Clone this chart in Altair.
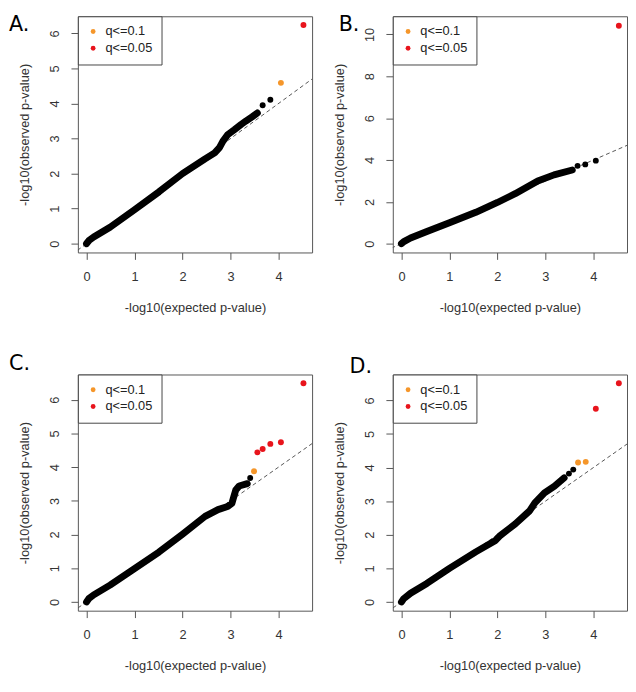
import altair as alt
import pandas as pd

# ---------------- data ----------------
X_TICKS = [0, 1, 2, 3, 4]
X_DOMAIN = [-0.18, 4.70]
DIAG = [-1, 11]
Q_LABELS = ["q<=0.1", "q<=0.05"]
ORANGE = "#f5962a"
RED = "#e8141c"

# Panel A
a_band_x = [0, 0.05, 0.15, 0.49, 1.0, 1.51, 2.0, 2.47, 2.67, 2.77, 2.84, 2.94, 3.08, 3.22, 3.32, 3.45, 3.56]
a_band_y = [0, 0.09, 0.19, 0.47, 0.97, 1.48, 2.0, 2.42, 2.59, 2.74, 2.92, 3.11, 3.25, 3.40, 3.50, 3.62, 3.73]
a_black_x = [3.67, 3.83]
a_black_y = [3.95, 4.11]
a_q_x = [4.05, 4.52]
a_q_y = [4.59, 6.24]
a_q = ["q<=0.1", "q<=0.05"]
a_y_domain = [-0.25, 6.49]
a_y_ticks = [0, 1, 2, 3, 4, 5, 6]

# Panel B
b_band_x = [0, 0.05, 0.19, 0.53, 1.0, 1.55, 2.0, 2.37, 2.84, 3.18, 3.56]
b_band_y = [0, 0.1, 0.27, 0.58, 1.0, 1.5, 1.97, 2.39, 3.0, 3.29, 3.52]
b_black_x = [3.67, 3.83, 4.05]
b_black_y = [3.72, 3.79, 3.97]
b_q_x = [4.53]
b_q_y = [10.42]
b_q = ["q<=0.05"]
b_y_domain = [-0.42, 10.87]
b_y_ticks = [0, 2, 4, 6, 8, 10]

# Panel C
c_band_x = [0, 0.05, 0.15, 0.49, 1.0, 1.51, 2.0, 2.47, 2.74, 2.94, 3.03, 3.07, 3.11, 3.18, 3.35]
c_band_y = [0, 0.1, 0.21, 0.50, 0.99, 1.48, 2.01, 2.54, 2.74, 2.83, 2.93, 3.13, 3.32, 3.44, 3.51]
c_black_x = [3.41]
c_black_y = [3.68]
c_q_x = [3.49, 3.56, 3.67, 3.83, 4.05, 4.52]
c_q_y = [3.88, 4.44, 4.54, 4.69, 4.74, 6.49]
c_q = ["q<=0.1", "q<=0.05", "q<=0.05", "q<=0.05", "q<=0.05", "q<=0.05"]
c_y_domain = [-0.26, 6.75]
c_y_ticks = [0, 1, 2, 3, 4, 5, 6]

# Panel D
d_band_x = [0, 0.05, 0.19, 0.53, 1.0, 1.55, 1.96, 2.06, 2.37, 2.67, 2.78, 2.98, 3.19, 3.39]
d_band_y = [0, 0.1, 0.26, 0.55, 1.0, 1.49, 1.83, 1.98, 2.32, 2.71, 2.95, 3.25, 3.45, 3.69]
d_black_x = [3.49, 3.58]
d_black_y = [3.82, 3.94]
d_q_x = [3.68, 3.84, 4.05, 4.53]
d_q_y = [4.15, 4.17, 5.75, 6.51]
d_q = ["q<=0.1", "q<=0.1", "q<=0.05", "q<=0.05"]
d_y_domain = [-0.26, 6.77]
d_y_ticks = [0, 1, 2, 3, 4, 5, 6]

# ---------------- styling ----------------
FONT = "Liberation Sans"
TEXT = "#333333"
LINE = "#555555"
W, H = 238, 240


def panel(letter, bx, by, kx, ky, qx, qy, qv, y_domain, y_ticks, title_dx, title_off):
    band = pd.DataFrame({"x": bx, "y": by})
    black = pd.DataFrame({"x": kx, "y": ky})
    colored = pd.DataFrame({"x": qx, "y": qy, "q": qv})
    diag = pd.DataFrame({"x": DIAG, "y": DIAG})

    xs = alt.Scale(domain=X_DOMAIN, nice=False, zero=False)
    ys = alt.Scale(domain=y_domain, nice=False, zero=False)
    xax = alt.Axis(values=X_TICKS, tickCount=len(X_TICKS),
                   title="-log10(expected p-value)", domain=False,
                   grid=False, tickSize=7, tickColor=LINE, labelFont=FONT,
                   labelFontSize=13, labelColor=TEXT, labelPadding=11,
                   labelFlush=False, labelOverlap=False, titleFont=FONT,
                   titleFontSize=13, titleFontWeight="normal", titleColor=TEXT,
                   titlePadding=19)
    yax = alt.Axis(values=y_ticks, tickCount=len(y_ticks),
                   title="-log10(observed p-value)", domain=False,
                   grid=False, tickSize=7, tickColor=LINE, labelFont=FONT,
                   labelFontSize=13, labelColor=TEXT, labelPadding=10,
                   labelAngle=270, labelAlign="center", labelBaseline="bottom",
                   labelFlush=False, labelOverlap=False, titleFont=FONT,
                   titleFontSize=13, titleFontWeight="normal", titleColor=TEXT,
                   titlePadding=17)

    ex = alt.X("x:Q", scale=xs, axis=xax)
    ey = alt.Y("y:Q", scale=ys, axis=yax)

    diag_l = alt.Chart(diag).mark_line(clip=True, color=LINE, strokeWidth=1,
                                       strokeDash=[4, 3]).encode(x=ex, y=ey)
    band_l = alt.Chart(band).mark_line(clip=True, color="black", strokeWidth=7,
                                       strokeCap="round", strokeJoin="round").encode(
        x=ex, y=ey)
    black_p = alt.Chart(black).mark_circle(clip=True, color="black", size=36,
                                           opacity=1).encode(x=ex, y=ey)
    col_p = alt.Chart(colored).mark_circle(clip=True, size=36, opacity=1).encode(
        x=ex, y=ey,
        color=alt.Color("q:N", scale=alt.Scale(domain=Q_LABELS, range=[ORANGE, RED]),
                        legend=alt.Legend(title=None, orient="top-left", offset=0,
                                          padding=9, strokeColor="#444444",
                                          fillColor="white", symbolType="circle",
                                          symbolSize=24, symbolStrokeWidth=0,
                                          labelFont=FONT, labelFontSize=13,
                                          labelColor="#222222", labelOffset=6,
                                          rowPadding=3)))
    return alt.layer(diag_l, band_l, black_p, col_p).properties(
        width=W, height=H,
        title=alt.TitleParams(text=letter, anchor="start", frame="group", orient="top",
                              font="DejaVu Sans", fontSize=21, fontWeight="normal",
                              color="black", baseline="top", offset=title_off,
                              dx=title_dx))


pa = panel("A.", a_band_x, a_band_y, a_black_x, a_black_y, a_q_x, a_q_y, a_q,
           a_y_domain, a_y_ticks, -70, -19)
pb = panel("B.", b_band_x, b_band_y, b_black_x, b_black_y, b_q_x, b_q_y, b_q,
           b_y_domain, b_y_ticks, -55, -19)
pc = panel("C.", c_band_x, c_band_y, c_black_x, c_black_y, c_q_x, c_q_y, c_q,
           c_y_domain, c_y_ticks, -70, 0)
pd_ = panel("D.", d_band_x, d_band_y, d_black_x, d_black_y, d_q_x, d_q_y, d_q,
            d_y_domain, d_y_ticks, -44, -3)

row1 = alt.hconcat(pa, pb, spacing=20).resolve_scale(
    x="independent", y="independent", color="independent")
row2 = alt.hconcat(pc, pd_, spacing=20).resolve_scale(
    x="independent", y="independent", color="independent")

chart = alt.vconcat(row1, row2, spacing=38).resolve_scale(
    x="independent", y="independent", color="independent").properties(
    padding=0, background="white").configure_view(
    stroke=LINE, strokeWidth=1).configure_axis(labelOverlap=False)

chart.save("out.html", embed_options={"renderer": "svg", "actions": False})
